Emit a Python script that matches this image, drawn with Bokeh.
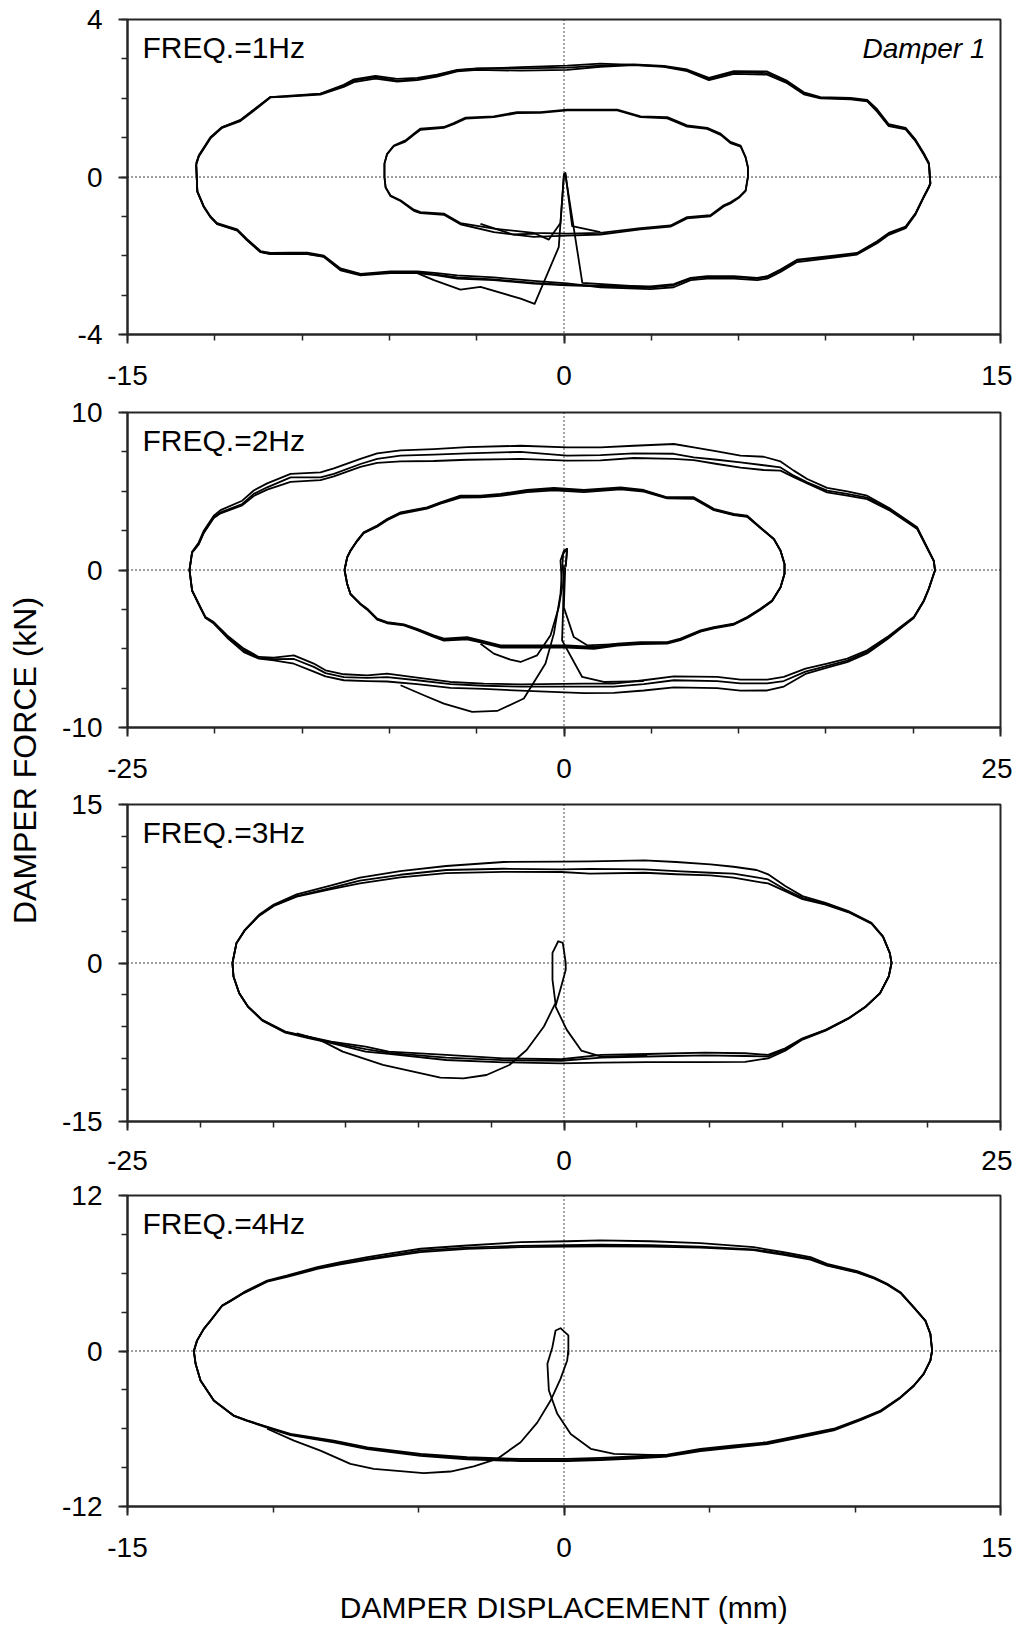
import numpy as np
from math import pi
from bokeh.plotting import figure
from bokeh.models import FixedTicker, Span, Label, Range1d, CustomJSTickFormatter
from bokeh.layouts import row, column
from bokeh.embed import file_html
from bokeh.resources import INLINE

FONT = "Liberation Sans"
INK = "#000000"
AXC = "#262626"

# ---------------- 1 Hz ----------------
disp_1hz_big = [-12.64, -12.55, -12.15, -11.75, -11.12, -10.54, -10.09, -9.51, -8.37, -7.57, -7.22, -6.48, -5.73, -5.04, -4.36, -3.67, -2.98, -1.49, 0.11, 1.25, 2.40, 3.43, 4.23, 4.98, 5.84, 6.98, 7.67, 8.24, 8.81, 9.85, 10.42, 10.76, 11.16, 11.74, 12.08, 12.36, 12.54, 12.59,
                12.54, 12.36, 12.08, 11.74, 11.16, 10.76, 10.07, 9.27, 8.01, 7.44, 6.98, 6.64, 5.84, 4.92, 4.35, 3.77, 2.97, 1.25, 0.11, -1.04, -2.41, -3.67, -4.36, -5.04, -5.96, -6.99, -7.68, -8.25, -8.82, -9.40, -10.09, -10.43, -10.89, -11.23, -11.92, -12.15, -12.38, -12.60, -12.64]
force_1hz_big_c1 = [0.34, 0.55, 1.01, 1.27, 1.44, 1.77, 2.03, 2.05, 2.11, 2.32, 2.45, 2.54, 2.45, 2.49, 2.58, 2.71, 2.75, 2.79, 2.83, 2.88, 2.85, 2.81, 2.71, 2.49, 2.66, 2.64, 2.41, 2.13, 2.01, 1.99, 1.94, 1.69, 1.31, 1.23, 0.93, 0.59, 0.34, -0.17,
                    -0.26, -0.51, -0.93, -1.27, -1.44, -1.65, -1.95, -2.02, -2.12, -2.37, -2.54, -2.58, -2.54, -2.54, -2.58, -2.75, -2.81, -2.78, -2.75, -2.71, -2.62, -2.58, -2.50, -2.44, -2.44, -2.50, -2.37, -2.03, -1.96, -1.96, -1.96, -1.91, -1.61, -1.36, -1.20, -1.02, -0.76, -0.38, 0.34]
force_1hz_big_c2 = [0.34, 0.52, 0.98, 1.25, 1.42, 1.75, 2.02, 2.04, 2.09, 2.29, 2.41, 2.50, 2.42, 2.46, 2.55, 2.68, 2.72, 2.70, 2.72, 2.80, 2.84, 2.80, 2.69, 2.46, 2.62, 2.60, 2.38, 2.10, 2.00, 1.97, 1.92, 1.66, 1.29, 1.21, 0.91, 0.57, 0.32, -0.17,
                    -0.26, -0.52, -0.95, -1.30, -1.47, -1.68, -1.97, -2.05, -2.16, -2.41, -2.58, -2.62, -2.58, -2.58, -2.62, -2.80, -2.85, -2.80, -2.70, -2.64, -2.55, -2.50, -2.44, -2.40, -2.40, -2.46, -2.32, -2.00, -1.92, -1.92, -1.93, -1.88, -1.58, -1.33, -1.17, -1.00, -0.74, -0.36, 0.30]
force_1hz_big_c3 = [0.30, 0.53, 1.00, 1.26, 1.45, 1.78, 2.03, 2.06, 2.12, 2.34, 2.48, 2.57, 2.49, 2.52, 2.60, 2.72, 2.76, 2.76, 2.78, 2.83, 2.86, 2.82, 2.73, 2.52, 2.69, 2.68, 2.44, 2.15, 2.03, 2.01, 1.96, 1.72, 1.34, 1.25, 0.95, 0.61, 0.36, -0.15,
                    -0.24, -0.50, -0.92, -1.26, -1.42, -1.63, -1.93, -2.00, -2.10, -2.35, -2.52, -2.56, -2.52, -2.52, -2.56, -2.72, -2.78, -2.76, -2.74, -2.69, -2.60, -2.55, -2.48, -2.42, -2.42, -2.48, -2.35, -2.02, -1.95, -1.95, -1.95, -1.90, -1.60, -1.35, -1.19, -1.01, -0.75, -0.37, 0.34]

disp_1hz_small = [-6.17, -6.08, -5.85, -5.45, -5.16, -4.93, -4.13, -3.79, -3.38, -2.41, -1.61, -0.81, 0.11, 1.83, 2.63, 3.55, 4.23, 4.92, 5.38, 5.72, 6.07, 6.24, 6.32, 6.32,
                  6.24, 6.01, 5.72, 5.49, 5.03, 4.23, 3.66, 2.63, 1.25, 0.11, -1.04, -2.41, -3.56, -4.13, -4.93, -5.16, -5.62, -5.96, -6.13, -6.17, -6.17]
force_1hz_small_c1 = [0.34, 0.59, 0.80, 0.93, 1.10, 1.23, 1.27, 1.37, 1.51, 1.54, 1.65, 1.65, 1.71, 1.71, 1.54, 1.52, 1.31, 1.25, 1.10, 0.89, 0.80, 0.51, 0.25, 0.00,
                      -0.34, -0.51, -0.64, -0.72, -0.97, -1.02, -1.23, -1.30, -1.42, -1.44, -1.42, -1.31, -1.17, -0.93, -0.89, -0.83, -0.59, -0.47, -0.26, 0.00, 0.34]
force_1hz_small_c2 = [0.34, 0.57, 0.78, 0.90, 1.07, 1.20, 1.25, 1.34, 1.48, 1.52, 1.62, 1.63, 1.69, 1.69, 1.52, 1.49, 1.28, 1.22, 1.07, 0.86, 0.77, 0.49, 0.24, 0.00,
                      -0.36, -0.53, -0.67, -0.75, -1.00, -1.05, -1.26, -1.33, -1.46, -1.49, -1.52, -1.40, -1.20, -0.96, -0.92, -0.86, -0.61, -0.49, -0.27, 0.00, 0.34]

trans_1hz_big_start_d = [0.00, 0.04, 0.63, 2.97]
trans_1hz_big_start_f = [0.00, 0.10, -2.69, -2.80]
trans_1hz_big_end_d = [-5.04, -4.47, -3.56, -2.87, -1.49, -1.01, -0.18, 0.00]
trans_1hz_big_end_f = [-2.44, -2.62, -2.86, -2.79, -3.09, -3.22, -1.78, 0.09]
trans_1hz_small_start_d = [0.00, 0.05, 0.28, 1.25]
trans_1hz_small_start_f = [0.00, 0.10, -1.25, -1.40]
trans_1hz_small_end_d = [-2.87, -1.75, -0.98, -0.52, -0.12, 0.00]
trans_1hz_small_end_f = [-1.19, -1.46, -1.44, -1.59, -1.17, 0.09]

# ---------------- 2 Hz ----------------
disp_2hz_big = [-21.45, -21.30, -20.92, -20.63, -20.06, -19.67, -18.43, -17.77, -17.00, -15.66, -13.95, -13.18, -11.66, -10.70, -9.36, -7.46, -5.55, -2.49, 0.18, 2.09, 4.00, 6.29, 7.43, 8.77, 10.11, 11.44, 12.40, 13.16, 13.93, 15.07, 16.22, 17.36, 18.70, 20.23, 20.89, 21.18, 21.25,
                21.18, 20.89, 20.61, 20.03, 19.27, 18.51, 17.36, 16.22, 15.07, 13.83, 12.59, 11.64, 10.11, 8.77, 6.29, 4.57, 2.85, 1.14, -2.49, -4.59, -6.50, -8.41, -10.13, -11.27, -12.61, -13.66, -14.33, -15.47, -16.62, -17.48, -18.34, -19.29, -20.06, -20.53, -20.82, -21.30, -21.45]
force_2hz_big_c1 = [0.01, 1.15, 1.75, 2.50, 3.45, 3.80, 4.40, 5.05, 5.50, 6.10, 6.20, 6.45, 7.05, 7.40, 7.60, 7.68, 7.80, 7.89, 7.78, 7.78, 7.89, 8.00, 7.78, 7.53, 7.26, 7.19, 6.89, 6.31, 5.78, 5.21, 4.99, 4.72, 3.88, 2.71, 1.24, 0.60, -0.03,
                    -0.24, -1.19, -1.93, -2.99, -3.62, -4.26, -5.10, -5.63, -5.94, -6.26, -6.79, -6.96, -6.96, -6.79, -6.75, -7.00, -7.21, -7.21, -7.26, -7.21, -7.11, -6.83, -6.58, -6.69, -6.62, -6.37, -5.94, -5.42, -5.57, -5.52, -4.99, -4.15, -3.31, -2.99, -2.36, -1.30, 0.01]
force_2hz_big_c2 = [0.00, 1.13, 1.66, 2.40, 3.35, 3.66, 4.19, 4.83, 5.25, 5.88, 5.88, 6.10, 6.73, 7.05, 7.26, 7.32, 7.40, 7.50, 7.26, 7.30, 7.40, 7.38, 7.15, 7.00, 6.83, 6.65, 6.51, 5.99, 5.57, 5.04, 4.83, 4.60, 3.80, 2.65, 1.20, 0.58, -0.03,
                    -0.24, -1.22, -1.98, -3.05, -3.72, -4.40, -5.30, -5.85, -6.20, -6.60, -7.40, -7.65, -7.66, -7.50, -7.45, -7.65, -7.80, -7.82, -7.66, -7.55, -7.48, -7.25, -7.08, -7.05, -7.00, -6.75, -6.45, -5.95, -5.74, -5.63, -5.21, -4.30, -3.40, -3.05, -2.42, -1.33, 0.00]
force_2hz_big_c3 = [0.00, 1.10, 1.62, 2.35, 3.30, 3.60, 4.10, 4.70, 5.10, 5.60, 5.70, 5.95, 6.55, 6.80, 6.90, 6.92, 7.00, 7.05, 6.94, 6.96, 7.11, 7.05, 6.98, 6.73, 6.50, 6.35, 6.31, 5.90, 5.50, 4.93, 4.72, 4.50, 3.75, 2.60, 1.18, 0.55, -0.03,
                    -0.24, -1.20, -1.95, -3.02, -3.68, -4.33, -5.20, -5.75, -6.08, -6.45, -7.05, -7.20, -7.20, -7.05, -7.00, -7.25, -7.40, -7.40, -7.40, -7.35, -7.25, -7.00, -6.80, -6.85, -6.80, -6.55, -6.15, -5.65, -5.66, -5.58, -5.10, -4.22, -3.35, -3.02, -2.39, -1.31, 0.00]

disp_2hz_small = [-12.57, -12.42, -12.23, -11.85, -11.47, -10.70, -10.13, -9.36, -7.84, -7.07, -5.93, -4.78, -3.64, -2.11, -0.58, 1.14, 3.24, 4.57, 5.91, 7.43, 8.58, 9.72, 10.49, 11.25, 12.02, 12.40, 12.63, 12.63,
                  12.40, 11.92, 11.25, 10.49, 9.72, 8.58, 7.82, 6.67, 5.91, 4.38, 3.05, 1.71, 0.18, -3.64, -4.78, -5.55, -6.88, -7.46, -8.41, -9.17, -10.13, -10.70, -11.27, -11.66, -12.23, -12.42, -12.57]
force_2hz_small_c1 = [0.00, 0.81, 1.24, 1.87, 2.40, 2.82, 3.24, 3.66, 3.98, 4.30, 4.72, 4.72, 4.83, 5.08, 5.21, 5.08, 5.25, 5.08, 4.62, 4.62, 3.88, 3.56, 3.45, 2.71, 1.98, 1.24, 0.39, -0.24,
                      -1.09, -1.93, -2.46, -2.99, -3.41, -3.62, -3.83, -4.36, -4.58, -4.58, -4.68, -4.89, -4.78, -4.78, -4.47, -4.26, -4.36, -4.15, -3.73, -3.45, -3.31, -3.09, -2.46, -2.14, -1.51, -0.87, 0.00]
force_2hz_small_c2 = [0.00, 0.78, 1.20, 1.82, 2.34, 2.75, 3.16, 3.57, 3.90, 4.22, 4.60, 4.62, 4.70, 4.95, 5.05, 4.95, 5.12, 4.98, 4.55, 4.52, 3.80, 3.48, 3.38, 2.66, 1.95, 1.22, 0.38, -0.24,
                      -1.12, -1.98, -2.52, -3.06, -3.48, -3.70, -3.92, -4.45, -4.68, -4.70, -4.80, -5.00, -4.92, -4.92, -4.60, -4.40, -4.48, -4.25, -3.82, -3.52, -3.38, -3.15, -2.52, -2.18, -1.54, -0.89, 0.00]
force_2hz_small_c3 = [0.00, 0.80, 1.22, 1.85, 2.37, 2.79, 3.20, 3.62, 3.94, 4.26, 4.66, 4.67, 4.77, 5.02, 5.13, 5.02, 5.18, 5.03, 4.58, 4.57, 3.84, 3.52, 3.41, 2.68, 1.96, 1.23, 0.38, -0.24,
                      -1.10, -1.95, -2.49, -3.02, -3.44, -3.66, -3.88, -4.40, -4.63, -4.64, -4.74, -4.94, -4.85, -4.85, -4.53, -4.33, -4.42, -4.20, -3.78, -3.48, -3.34, -3.12, -2.49, -2.16, -1.52, -0.88, 0.00]

trans_2hz_big_start_d = [0.00, -0.05, -0.11, 1.04, 2.28, 4.57]
trans_2hz_big_start_f = [0.30, -2.40, -4.47, -6.79, -7.11, -7.05]
trans_2hz_big_end_d = [-9.36, -8.03, -6.88, -5.26, -3.83, -2.30, -1.06, -0.58, -0.20, -0.05, 0.18, 0.10]
trans_2hz_big_end_f = [-7.32, -7.95, -8.48, -9.01, -8.95, -8.16, -5.94, -4.04, -1.51, 1.03, 1.34, 0.30]
trans_2hz_small_start_d = [0.07, -0.01, 0.56, 1.33, 3.05]
trans_2hz_small_start_f = [0.18, -2.36, -4.26, -4.78, -4.70]
trans_2hz_small_end_d = [-4.78, -4.02, -3.07, -2.49, -1.54, -0.77, -0.30, -0.11, -0.20, 0.00, 0.18, 0.10]
trans_2hz_small_end_f = [-4.68, -5.31, -5.69, -5.84, -5.42, -4.15, -2.36, -1.09, 0.60, 1.24, 1.34, 0.20]

# ---------------- 3 Hz ----------------
disp_3hz = [-18.99, -18.76, -18.27, -17.45, -16.62, -15.31, -13.33, -11.69, -9.38, -6.75, -3.46, -0.16, 1.48, 4.61, 6.42, 8.39, 9.71, 11.03, 11.69, 12.67, 13.66, 14.98, 16.29, 17.61, 18.27, 18.66, 18.76,
            18.60, 18.10, 17.28, 16.29, 14.98, 13.66, 12.67, 11.69, 10.37, 8.06, 4.77, 2.14, -0.16, -3.46, -6.75, -10.04, -11.36, -13.33, -14.65, -15.96, -17.28, -18.10, -18.60, -18.93, -18.99]
force_3hz_c1 = [0.00, 1.90, 3.16, 4.59, 5.54, 6.49, 7.34, 8.07, 8.70, 9.18, 9.56, 9.59, 9.62, 9.72, 9.56, 9.34, 9.11, 8.80, 8.39, 7.28, 6.33, 5.70, 4.91, 3.80, 2.53, 0.95, 0.00,
                -1.27, -2.85, -4.11, -5.22, -6.33, -7.12, -8.07, -8.70, -8.54, -8.48, -8.61, -8.70, -9.11, -9.02, -8.70, -8.39, -7.91, -7.44, -6.96, -6.49, -5.38, -4.11, -2.85, -1.27, 0.00]
force_3hz_c2 = [0.00, 1.88, 3.12, 4.52, 5.45, 6.33, 7.12, 7.80, 8.35, 8.80, 8.92, 8.86, 8.90, 8.86, 8.70, 8.54, 8.45, 8.10, 7.91, 6.96, 6.17, 5.60, 4.85, 3.76, 2.50, 0.94, 0.00,
                -1.28, -2.88, -4.15, -5.28, -6.40, -7.25, -8.30, -9.02, -9.35, -9.38, -9.38, -9.42, -9.49, -9.40, -9.18, -8.61, -8.39, -7.59, -7.10, -6.60, -5.45, -4.15, -2.88, -1.28, 0.00]
force_3hz_c3 = [0.00, 1.86, 3.10, 4.48, 5.40, 6.28, 7.00, 7.53, 8.10, 8.50, 8.62, 8.61, 8.45, 8.54, 8.40, 8.29, 8.07, 7.70, 7.53, 6.80, 6.05, 5.52, 4.80, 3.72, 2.48, 0.93, 0.00,
                -1.27, -2.86, -4.13, -5.25, -6.36, -7.18, -8.18, -8.85, -8.80, -8.75, -8.85, -8.95, -9.25, -9.20, -8.95, -8.50, -8.15, -7.52, -7.02, -6.55, -5.42, -4.13, -2.86, -1.27, 0.00]

trans_3hz_start_d = [0.10, 0.10, -0.16, -0.49, 0.16, 0.99, 2.14, 4.77]
trans_3hz_start_f = [0.00, -0.63, -2.22, -4.11, -6.33, -8.29, -8.86, -8.75]
trans_3hz_end_d = [-15.31, -13.99, -12.67, -10.37, -7.08, -5.76, -4.44, -3.13, -2.14, -1.15, -0.49, -0.66, -0.66, -0.33, -0.07, 0.10]
trans_3hz_end_f = [-6.65, -7.28, -8.39, -9.65, -10.85, -10.92, -10.60, -9.65, -8.23, -6.01, -3.80, -1.58, 0.95, 2.06, 1.90, 0.00]

# ---------------- 4 Hz ----------------
disp_4hz = [-12.72, -12.61, -12.38, -12.15, -11.75, -11.46, -11.00, -10.20, -9.51, -8.48, -7.68, -6.76, -6.07, -4.93, -3.33, -1.49, 0.11, 1.25, 2.97, 4.69, 6.52, 7.55, 8.47, 9.04, 10.08, 10.65, 11.11, 11.56, 12.02, 12.42, 12.59, 12.65,
            12.59, 12.36, 12.02, 11.56, 10.88, 10.19, 9.27, 8.13, 6.98, 5.84, 4.69, 3.55, 2.40, 1.25, 0.11, -1.49, -3.33, -4.93, -6.76, -7.91, -9.40, -9.97, -10.89, -11.35, -12.03, -12.49, -12.66, -12.72]
force_4hz_c1 = [0.00, 0.81, 1.71, 2.35, 3.51, 3.90, 4.54, 5.44, 5.83, 6.47, 6.85, 7.24, 7.50, 7.89, 8.14, 8.40, 8.47, 8.53, 8.47, 8.32, 8.01, 7.62, 7.24, 6.72, 6.16, 5.69, 5.18, 4.54, 3.38, 2.35, 1.33, 0.04,
                -0.73, -1.76, -2.66, -3.56, -4.59, -5.23, -6.00, -6.52, -7.04, -7.29, -7.55, -7.99, -8.14, -8.25, -8.33, -8.33, -8.20, -7.94, -7.43, -6.92, -6.40, -6.00, -5.36, -4.98, -3.82, -2.28, -0.99, 0.00]
force_4hz_c2 = [0.00, 0.80, 1.69, 2.32, 3.47, 3.85, 4.47, 5.35, 5.72, 6.33, 6.68, 7.03, 7.27, 7.63, 7.88, 8.01, 8.05, 8.08, 8.05, 7.98, 7.78, 7.42, 7.05, 6.58, 6.05, 5.60, 5.12, 4.48, 3.34, 2.32, 1.31, 0.04,
                -0.74, -1.78, -2.70, -3.62, -4.68, -5.33, -6.12, -6.66, -7.18, -7.45, -7.72, -8.14, -8.30, -8.42, -8.50, -8.50, -8.36, -8.10, -7.58, -7.05, -6.50, -6.08, -5.40, -5.00, -3.84, -2.29, -0.99, 0.00]
force_4hz_c3 = [0.00, 0.80, 1.70, 2.33, 3.49, 3.87, 4.50, 5.39, 5.77, 6.40, 6.76, 7.12, 7.36, 7.74, 7.98, 8.12, 8.16, 8.20, 8.16, 8.06, 7.85, 7.50, 7.12, 6.63, 6.09, 5.63, 5.14, 4.50, 3.36, 2.33, 1.32, 0.04,
                -0.74, -1.77, -2.68, -3.59, -4.64, -5.28, -6.06, -6.59, -7.11, -7.38, -7.64, -8.07, -8.22, -8.34, -8.42, -8.42, -8.28, -8.02, -7.51, -6.99, -6.46, -6.04, -5.38, -4.99, -3.83, -2.28, -0.99, 0.00]

trans_4hz_start_d = [0.15, 0.15, -0.12, -0.29, -0.40, -0.57, -0.52, -0.23, 0.23, 0.92, 1.72, 3.55]
trans_4hz_start_f = [-0.30, 1.20, 1.76, 1.58, 0.29, -0.99, -3.05, -4.85, -6.40, -7.55, -7.94, -8.05]
trans_4hz_end_d = [-10.20, -9.28, -8.37, -7.34, -6.54, -4.82, -3.90, -3.10, -2.30, -1.49, -0.92, -0.46, -0.12, 0.11, 0.15]
trans_4hz_end_f = [-6.00, -6.92, -7.69, -8.71, -9.10, -9.43, -9.30, -8.91, -8.33, -7.04, -5.53, -3.82, -2.15, -0.73, 0.04]

# ---------------- axes / labels ----------------
freq_labels = ["FREQ.=1Hz", "FREQ.=2Hz", "FREQ.=3Hz", "FREQ.=4Hz"]
x_limits = [(-15, 15), (-25, 25), (-25, 25), (-15, 15)]
y_limits = [(-4, 4), (-10, 10), (-15, 15), (-12, 12)]
x_minor_counts = [11, 11, 13, 7]
y_minor_counts = [9, 9, 11, 9]
damper_label = "Damper 1"
x_title = "DAMPER DISPLACEMENT (mm)"
y_title = "DAMPER FORCE (kN)"

curves = [
    [(disp_1hz_big, force_1hz_big_c1), (disp_1hz_big, force_1hz_big_c2), (disp_1hz_big, force_1hz_big_c3),
     (disp_1hz_small, force_1hz_small_c1), (disp_1hz_small, force_1hz_small_c2),
     (trans_1hz_big_start_d, trans_1hz_big_start_f), (trans_1hz_big_end_d, trans_1hz_big_end_f),
     (trans_1hz_small_start_d, trans_1hz_small_start_f), (trans_1hz_small_end_d, trans_1hz_small_end_f)],
    [(disp_2hz_big, force_2hz_big_c1), (disp_2hz_big, force_2hz_big_c2), (disp_2hz_big, force_2hz_big_c3),
     (disp_2hz_small, force_2hz_small_c1), (disp_2hz_small, force_2hz_small_c2), (disp_2hz_small, force_2hz_small_c3),
     (trans_2hz_big_start_d, trans_2hz_big_start_f), (trans_2hz_big_end_d, trans_2hz_big_end_f),
     (trans_2hz_small_start_d, trans_2hz_small_start_f), (trans_2hz_small_end_d, trans_2hz_small_end_f)],
    [(disp_3hz, force_3hz_c1), (disp_3hz, force_3hz_c2), (disp_3hz, force_3hz_c3),
     (trans_3hz_start_d, trans_3hz_start_f), (trans_3hz_end_d, trans_3hz_end_f)],
    [(disp_4hz, force_4hz_c1), (disp_4hz, force_4hz_c2), (disp_4hz, force_4hz_c3),
     (trans_4hz_start_d, trans_4hz_start_f), (trans_4hz_end_d, trans_4hz_end_f)],
]

FRAME_W = 873
frame_heights = [315, 315, 317, 311]
borders_top = [19, 17, 16, 16]
borders_bottom = [61, 61, 58, 122]
x_standoffs = [22, 22, 20, 22]
BORDER_L = 69
BORDER_R = 12
LABEL_W = 58

tick_fmt = "return tick.toFixed(0);"

figs = []
for k in range(4):
    x0, x1 = x_limits[k]
    y0, y1 = y_limits[k]
    fh = frame_heights[k]
    p = figure(frame_width=FRAME_W, frame_height=fh,
               x_range=Range1d(x0, x1), y_range=Range1d(y0, y1),
               min_border_left=BORDER_L, min_border_right=BORDER_R,
               min_border_top=borders_top[k], min_border_bottom=borders_bottom[k],
               toolbar_location=None, output_backend="svg",
               background_fill_color="white", border_fill_color="white")
    p.grid.visible = False
    p.outline_line_color = AXC
    p.outline_line_width = 2

    p.xaxis.ticker = FixedTicker(ticks=[x0, 0, x1], minor_ticks=list(np.linspace(x0, x1, x_minor_counts[k])))
    p.yaxis.ticker = FixedTicker(ticks=[y0, 0, y1], minor_ticks=list(np.linspace(y0, y1, y_minor_counts[k])))
    for ax in (p.xaxis[0], p.yaxis[0]):
        ax.formatter = CustomJSTickFormatter(code=tick_fmt)
        ax.axis_line_color = AXC
        ax.axis_line_width = 2
        ax.major_tick_line_color = AXC
        ax.major_tick_line_width = 2
        ax.minor_tick_line_color = AXC
        ax.minor_tick_line_width = 1.5
        ax.major_tick_out = 9
        ax.major_tick_in = 0
        ax.minor_tick_out = 6
        ax.minor_tick_in = 0
        ax.major_label_text_font = FONT
        ax.major_label_text_font_size = "28px"
        ax.major_label_text_color = "black"
    p.xaxis.major_label_standoff = x_standoffs[k]
    p.yaxis.major_label_standoff = 16

    p.add_layout(Span(location=0, dimension="width", line_color="black", line_width=1.4,
                      line_dash="1 3", level="underlay"))
    p.add_layout(Span(location=0, dimension="height", line_color="black", line_width=1.4,
                      line_dash="1 3", level="underlay"))

    for xs, ys in curves[k]:
        p.line(xs, ys, line_color=INK, line_width=1.8, line_join="round")

    p.add_layout(Label(x=x0 + 15.0 / FRAME_W * (x1 - x0), y=y1 - 27.5 / fh * (y1 - y0),
                       text=freq_labels[k], text_font=FONT, text_font_size="30px",
                       text_color="black", text_baseline="middle", text_align="left"))
    if k == 0:
        p.add_layout(Label(x=x1 - 15.0 / FRAME_W * (x1 - x0), y=y1 - 29.0 / fh * (y1 - y0),
                           text=damper_label, text_font=FONT, text_font_size="28px",
                           text_font_style="italic", text_color="black",
                           text_baseline="middle", text_align="right"))
    if k == 3:
        p.xaxis.axis_label = x_title
        p.xaxis.axis_label_text_font = FONT
        p.xaxis.axis_label_text_font_size = "30px"
        p.xaxis.axis_label_text_font_style = "normal"
        p.xaxis.axis_label_text_color = "black"
        p.xaxis.axis_label_standoff = 31
    figs.append(p)

total_h = sum(borders_top[k] + frame_heights[k] + borders_bottom[k] for k in range(4))
lab = figure(width=LABEL_W, height=total_h, x_range=Range1d(0, 1), y_range=Range1d(0, 1),
             min_border=0, x_axis_location=None, y_axis_location=None,
             toolbar_location=None, output_backend="svg")
lab.grid.visible = False
lab.outline_line_color = None
lab.add_layout(Label(x=24.0 / LABEL_W, y=1 - 760.0 / total_h, text=y_title, angle=pi / 2,
                     text_font=FONT, text_font_size="32px", text_color="black",
                     text_align="center", text_baseline="middle"))

layout = row(lab, column(*figs))
open("out.html", "w").write(file_html(layout, INLINE))
